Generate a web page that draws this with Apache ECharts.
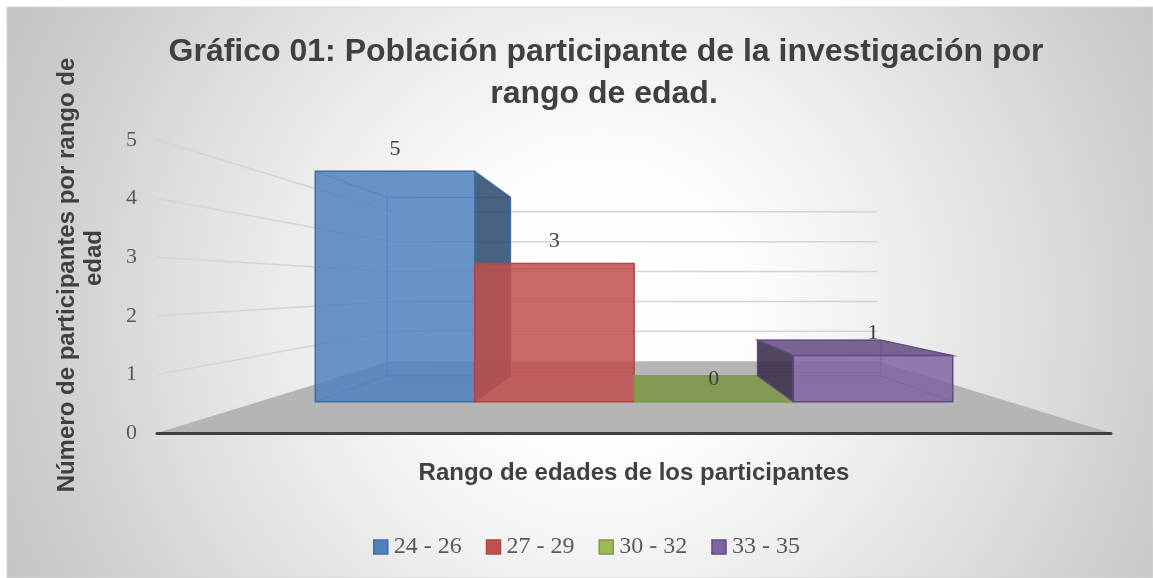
<!DOCTYPE html>
<html>
<head>
<meta charset="utf-8">
<script src="https://cdn.jsdelivr.net/npm/echarts@6/dist/echarts.min.js"></script>
<style>
  html, body { margin: 0; padding: 0; background: #ffffff; }
  #chart { width: 1153px; height: 578px; }
</style>
</head>
<body>
<div id="chart"></div>
<script>
// ---- data ----
const categories = ['24 - 26', '27 - 29', '30 - 32', '33 - 35'];
const values = [5, 3, 0, 1];
const yTicks = [0, 1, 2, 3, 4, 5];
const titleLines = ['Gráfico 01: Población participante de la investigación por', 'rango de edad.'];
const yTitleLines = ['Número de participantes por rango de', 'edad'];
const xTitle = 'Rango de edades de los participantes';
const baseColors = [[79, 129, 189], [192, 80, 77], [155, 187, 89], [128, 100, 162]];
const edgeColors = ['#3f6ea8', '#b04644', '#7e9a45', '#5f4a84'];

// ---- perspective style constants ----
const DEPTH_FRONT = 0.786;   // bar front plane
const DEPTH_BACK = 0.609;    // bar back plane
const DEPTH_WALL = 0.51;     // back wall / floor back edge
const GROUP_RATIO = 0.85;

const rgba = (c, k, a) => `rgba(${Math.round(c[0]*k)},${Math.round(c[1]*k)},${Math.round(c[2]*k)},${a})`;

function projector(cs) {
  const vx = cs.x + cs.width / 2, vy = cs.y + cs.height / 2;
  return { vx, vy, p: (x, y, d) => [vx + d * (x - vx), vy + d * (y - vy)] };
}

function renderStage(params, api) {
  const cs = params.coordSys;
  const { p } = projector(cs);
  const xl = cs.x, xr = cs.x + cs.width;
  const base = api.coord([0, 0])[1];
  const children = [];
  children.push({
    type: 'polygon',
    shape: { points: [[xl, base], [xr, base], p(xr, base, DEPTH_WALL), p(xl, base, DEPTH_WALL)] },
    style: { fill: '#b5b5b5' }
  });
  yTicks.forEach(v => {
    if (v === 0) return;
    const y = api.coord([0, v])[1];
    const b1 = p(xl, y, DEPTH_WALL), b2 = p(xr, y, DEPTH_WALL);
    children.push({
      type: 'polyline',
      shape: { points: [[xl, y], b1, b2] },
      style: { stroke: '#d4d4d4', lineWidth: 1.5, fill: null }
    });
  });
  return { type: 'group', children };
}

function renderBar(params, api, i) {
  const cs = params.coordSys;
  const { vx, vy, p } = projector(cs);
  const center = api.coord([api.value(0), 0]);
  const band = api.size([1, 0])[0];
  const groupW = band * GROUP_RATIO;
  const barW = groupW / categories.length;
  const x0 = center[0] - groupW / 2 + i * barW, x1 = x0 + barW;
  const top = api.coord([api.value(0), api.value(1)])[1];
  const base = center[1];
  const c = baseColors[i];
  const F = (x, y) => p(x, y, DEPTH_FRONT);
  const B = (x, y) => p(x, y, DEPTH_BACK);
  const faces = {
    back: [B(x0, top), B(x1, top), B(x1, base), B(x0, base)],
    bottom: [F(x0, base), F(x1, base), B(x1, base), B(x0, base)],
    top: [F(x0, top), F(x1, top), B(x1, top), B(x0, top)],
    left: [F(x0, top), B(x0, top), B(x0, base), F(x0, base)],
    right: [F(x1, top), B(x1, top), B(x1, base), F(x1, base)],
    front: [F(x0, top), F(x1, top), F(x1, base), F(x0, base)]
  };
  const vis = {
    top: top > vy,
    bottom: base < vy,
    left: x0 > vx + 1,
    right: x1 < vx - 1
  };
  const children = [];
  const hidden = ['back', 'bottom', 'top', 'left', 'right'].filter(f => f === 'back' || !vis[f]);
  hidden.forEach(f => children.push({
    type: 'polygon', shape: { points: faces[f] },
    style: { fill: null, stroke: edgeColors[i], lineWidth: 1, opacity: 0.45 }
  }));
  const shade = { top: 0.8, bottom: 0.8, left: 0.45, right: 0.6 };
  ['bottom', 'left', 'right', 'top'].forEach(f => {
    if (!vis[f]) return;
    children.push({
      type: 'polygon', shape: { points: faces[f] },
      style: { fill: rgba(c, shade[f], 0.88), stroke: edgeColors[i], lineWidth: 1.2 }
    });
  });
  children.push({
    type: 'polygon', shape: { points: faces.front },
    style: { fill: rgba(c, 1, 0.85), stroke: edgeColors[i], lineWidth: 1.5 }
  });
  const ft = F((x0 + x1) / 2, top);
  children.push({
    type: 'text',
    x: ft[0], y: ft[1] - 11,
    style: {
      text: String(api.value(1)), align: 'center', verticalAlign: 'bottom',
      fill: '#404040', font: '22px "Liberation Serif", serif'
    },
    z2: 10
  });
  return { type: 'group', children };
}

const chart = echarts.init(document.getElementById('chart'), null, { renderer: 'canvas' });

const option = {
  animation: false,
  graphic: [
    {
      type: 'rect', z: -10, silent: true,
      shape: { x: 7, y: 7, width: 1146, height: 571 },
      style: {
        stroke: '#d4d4d4', lineWidth: 1,
        fill: {
          type: 'radial', x: 600, y: 310, r: 660, global: true,
          colorStops: [
            { offset: 0, color: '#ffffff' },
            { offset: 0.22, color: '#fdfdfd' },
            { offset: 0.45, color: '#eeeeee' },
            { offset: 0.7, color: '#dbdbdb' },
            { offset: 0.88, color: '#cccccc' },
            { offset: 1, color: '#c3c3c3' }
          ]
        }
      }
    },
    {
      type: 'text', x: 606, y: 52, silent: true,
      style: { text: titleLines[0], align: 'center', verticalAlign: 'middle', fill: '#404040',
               font: 'bold 32px "Liberation Sans", Arial, sans-serif' }
    },
    {
      type: 'text', x: 604, y: 94, silent: true,
      style: { text: titleLines[1], align: 'center', verticalAlign: 'middle', fill: '#404040',
               font: 'bold 32px "Liberation Sans", Arial, sans-serif' }
    },
    {
      type: 'text', x: 67, y: 275, rotation: Math.PI / 2, silent: true,
      style: { text: yTitleLines[0], align: 'center', verticalAlign: 'middle', fill: '#404040',
               font: 'bold 24px "Liberation Sans", Arial, sans-serif' }
    },
    {
      type: 'text', x: 94, y: 258, rotation: Math.PI / 2, silent: true,
      style: { text: yTitleLines[1], align: 'center', verticalAlign: 'middle', fill: '#404040',
               font: 'bold 24px "Liberation Sans", Arial, sans-serif' }
    }
  ],
  legend: {
    left: 373, top: 535, padding: 0,
    itemWidth: 14, itemHeight: 14, itemGap: 24,
    icon: 'rect',
    textStyle: { fontFamily: '"Liberation Serif", serif', fontSize: 24, color: '#595959', padding: [0, 0, 0, 1] },
    data: categories.map((name, i) => ({
      name,
      itemStyle: { color: rgba(baseColors[i], 1, 1), borderColor: edgeColors[i], borderWidth: 1.5 }
    }))
  },
  grid: { left: 157, right: 42, top: 140, bottom: 145 },
  xAxis: {
    type: 'category', data: [''], z: 5,
    axisLine: { show: true, lineStyle: { color: '#404040', width: 3 } },
    axisTick: { show: false }, axisLabel: { show: false }, splitLine: { show: false },
    name: xTitle, nameLocation: 'middle', nameGap: 28,
    nameTextStyle: { fontFamily: '"Liberation Sans", Arial, sans-serif', fontWeight: 'bold', fontSize: 24, color: '#404040' }
  },
  yAxis: {
    type: 'value', min: yTicks[0], max: yTicks[yTicks.length - 1], interval: 1,
    axisLine: { show: false }, axisTick: { show: false }, splitLine: { show: false },
    axisLabel: { margin: 20, fontFamily: '"Liberation Serif", serif', fontSize: 22, color: '#595959' }
  },
  series: [
    { type: 'custom', name: 'stage', silent: true, z: 1, renderItem: renderStage, data: [[0]] }
  ].concat(categories.map((name, i) => ({
    type: 'custom', name, z: 2,
    itemStyle: { color: rgba(baseColors[i], 1, 1) },
    renderItem: (params, api) => renderBar(params, api, i),
    data: [[0, values[i]]]
  })))
};

chart.setOption(option);
</script>
</body>
</html>
